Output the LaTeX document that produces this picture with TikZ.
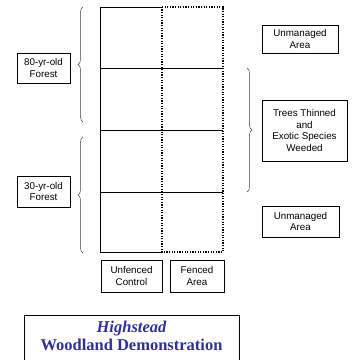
\documentclass[tikz,border=0pt]{standalone}
\usepackage{fontspec}
\setmainfont{Liberation Sans}
\newfontfamily\titlefont{Liberation Serif}
\usetikzlibrary{decorations.pathreplacing}
\definecolor{titleblue}{RGB}{48,48,150}
\begin{document}
\begin{tikzpicture}[x=1pt, y=1pt,
  label/.style={rectangle, draw, line width=0.6pt, align=center, inner sep=1pt,
                font=\fontsize{9.8}{11.5}\selectfont},
  plot/.style={line width=0.7pt},
  fence/.style={line width=1.6pt, dash pattern=on 1.3pt off 1.3pt},
  brc/.style={decorate, decoration={brace, amplitude=5pt}, line width=0.5pt, black!75}]
\useasboundingbox (0,0) rectangle (352,360);
\clip (0,0) rectangle (352,360);
% plot corners and rows
\coordinate (nw) at (100,353);
\coordinate (nm) at (162,353);
\coordinate (ne) at (223,353);
\coordinate (sw) at (100,108);
\coordinate (sm) at (162,108);
\coordinate (se) at (223,108);
\draw[plot] (nm) -- (nw) -- (sw) -- (sm);
\foreach \y in {292,230,168}
  \draw[plot] (100,\y) -- (223,\y);
\draw[fence] (nm) -- (ne) -- (se) -- (sm) -- cycle;
% forest ages
\node[label, minimum width=53pt, minimum height=30pt] (old) at (43.5,292) {80-yr-old\\Forest};
\node[label, minimum width=53pt, minimum height=31pt] (young) at (43.5,168.5) {30-yr-old\\Forest};
\draw[brc] (83,238) -- (83,353);
\draw[brc] (83,107) -- (83,223);
% treatments
\node[label, minimum width=76pt, minimum height=28pt] (top) at (300,321) {Unmanaged\\Area};
\node[label, minimum width=85pt, minimum height=61pt] (thin) at (304.5,229.5)
  {Trees Thinned\\and\\Exotic Species\\Weeded};
\node[label, minimum width=77pt, minimum height=31pt] (bottom) at (300.5,138.5) {Unmanaged\\Area};
\draw[brc] (247,292) -- (247,168);
% columns
\node[label, minimum width=61pt, minimum height=32pt] (control) at (131.5,84) {Unfenced\\Control};
\node[label, minimum width=54pt, minimum height=32pt] (fenced) at (197,84) {Fenced\\Area};
% title
\node[draw, line width=0.8pt, minimum width=215pt, minimum height=60pt, anchor=north west]
  (title) at (24,45) {};
\node[text=titleblue, align=center, font=\titlefont\bfseries\fontsize{16.5}{18}\selectfont]
  (name) at (131.5,24.5) {\itshape Highstead\\Woodland Demonstration};
\end{tikzpicture}
\end{document}
